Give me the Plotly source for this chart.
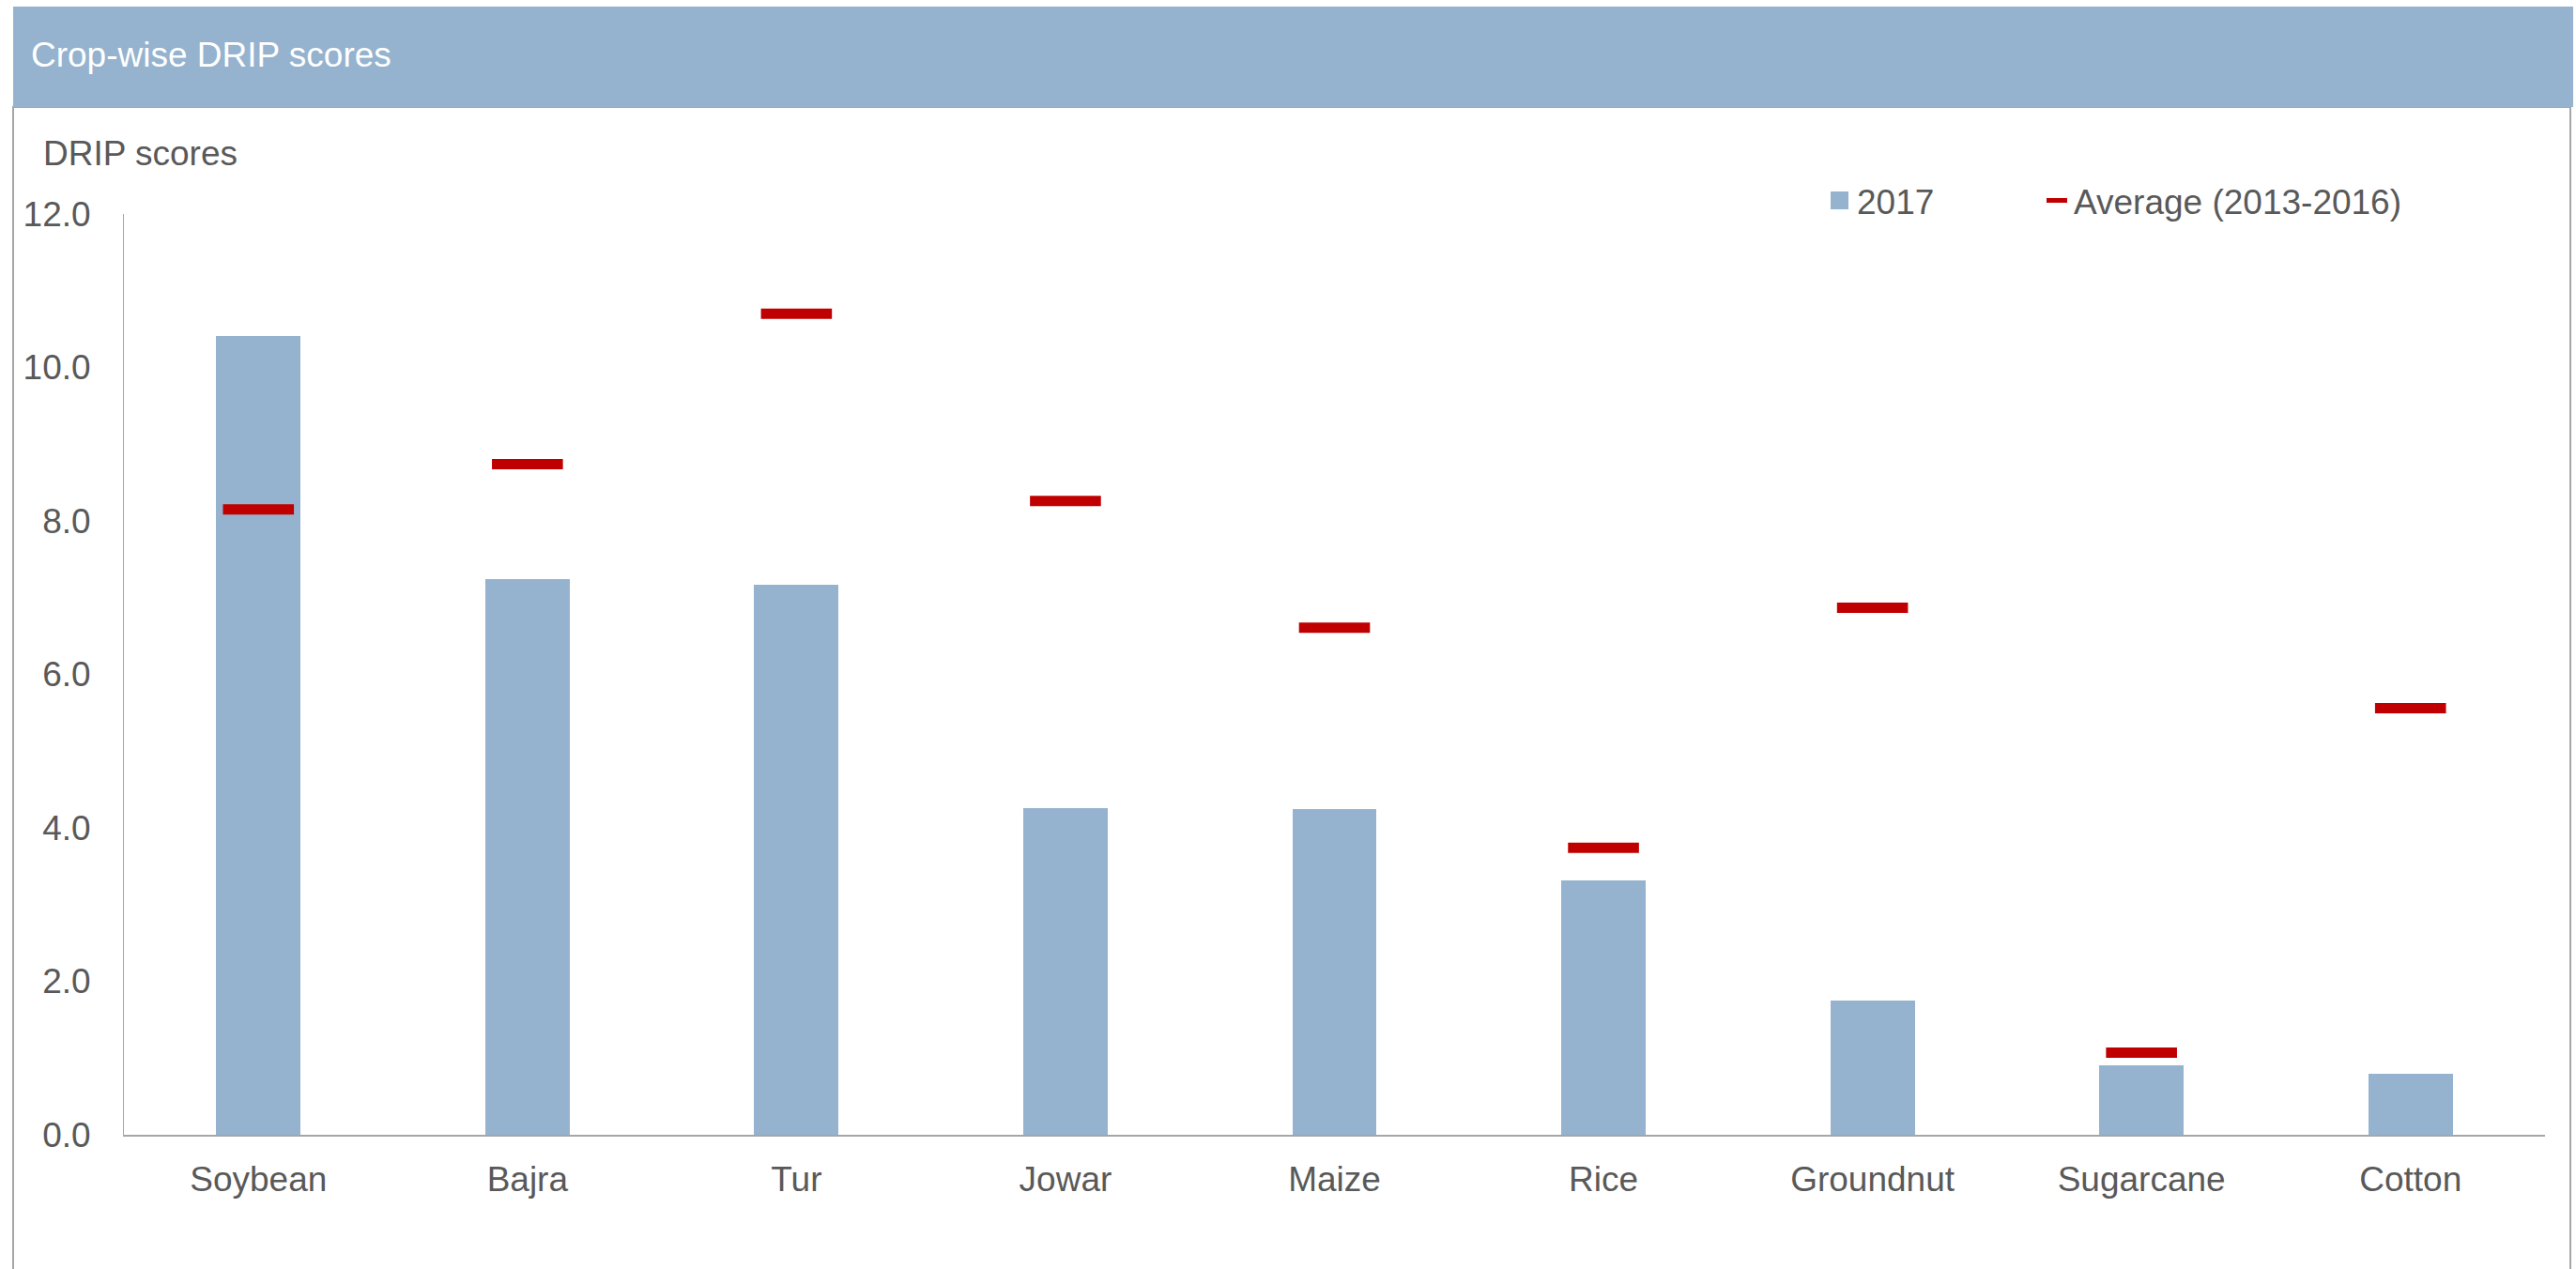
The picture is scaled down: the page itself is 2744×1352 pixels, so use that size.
import plotly.graph_objects as go

crops = ['Soybean', 'Bajra', 'Tur', 'Jowar', 'Maize', 'Rice', 'Groundnut', 'Sugarcane', 'Cotton']
score_2017 = [10.41, 7.24, 7.17, 4.26, 4.24, 3.32, 1.75, 0.90, 0.80]
avg_2013_2016 = [8.15, 8.74, 10.70, 8.26, 6.61, 3.74, 6.87, 1.07, 5.56]
y_ticks = [0, 2, 4, 6, 8, 10, 12]

W, H = 2744, 1352
px = lambda x: x / W
py = lambda y: 1 - y / H

BLUE = '#95B3CE'
RED = '#C00000'
GREY = '#595959'
FONT = 'Liberation Sans, Arial, sans-serif'

fig = go.Figure()
fig.add_trace(go.Bar(x=crops, y=score_2017, name='2017', width=0.314,
                     marker=dict(color=BLUE, line=dict(width=0))))
fig.add_trace(go.Scatter(x=crops, y=avg_2013_2016, name='Average (2013-2016)', mode='markers',
                         marker=dict(symbol='line-ew', size=54, color=RED,
                                     line=dict(color=RED, width=11))))

# header band and panel frame
fig.add_shape(type='rect', xref='paper', yref='paper', x0=px(14), x1=px(2738), y0=py(1360), y1=py(114),
              line=dict(color='#A6A6A6', width=2), fillcolor='rgba(0,0,0,0)', layer='below')
fig.add_shape(type='rect', xref='paper', yref='paper', x0=px(14), x1=px(2741), y0=py(114), y1=py(7),
              line=dict(width=0), fillcolor=BLUE, layer='below')
fig.add_annotation(text='Crop-wise DRIP scores', xref='paper', yref='paper', x=px(31), y=py(59),
                   xanchor='left', yanchor='middle', showarrow=False,
                   font=dict(size=37, color='white', family=FONT))
fig.add_annotation(text='DRIP scores', xref='paper', yref='paper', x=px(44), y=py(163),
                   xanchor='left', yanchor='middle', showarrow=False,
                   font=dict(size=37, color=GREY, family=FONT))

# legend keys
fig.add_shape(type='rect', xref='paper', yref='paper', x0=px(1950), x1=px(1969), y0=py(223), y1=py(204),
              line=dict(width=0), fillcolor=BLUE)
fig.add_shape(type='line', xref='paper', yref='paper', x0=px(2180), x1=px(2202), y0=py(213.5), y1=py(213.5),
              line=dict(color=RED, width=5))
for label, x in [('2017', 1976), ('Average (2013-2016)', 2207)]:
    fig.add_annotation(text=label, xref='paper', yref='paper', x=px(x), y=py(215),
                       xanchor='left', yanchor='middle', showarrow=False,
                       font=dict(size=37, color=GREY, family=FONT))

fig.update_layout(
    template='none',
    width=W, height=H, autosize=False,
    margin=dict(l=0, r=0, t=0, b=0, pad=0),
    paper_bgcolor='white', plot_bgcolor='white',
    font=dict(family=FONT, size=37, color=GREY),
    bargap=0,
    showlegend=False,
    xaxis=dict(domain=[px(132), px(2711)], range=[-0.5, len(crops) - 0.5], automargin=False,
               showgrid=False, showline=True, linecolor='#A6A6A6', linewidth=2, ticks='',
               ticklabelstandoff=14, tickfont=dict(size=37, color=GREY)),
    yaxis=dict(domain=[py(1209), py(228)], range=[0, 12], tickvals=y_ticks, tickformat='.1f',
               automargin=False, showgrid=False, showline=True, linecolor='#A6A6A6', linewidth=1,
               zeroline=False, ticks='', ticklabelstandoff=27, tickfont=dict(size=37, color=GREY)),
)

# page body margin would push the figure 8px off the window origin
fig.write_html('out.html', config={'displayModeBar': False},
               post_script="document.body.style.margin='0px';")
